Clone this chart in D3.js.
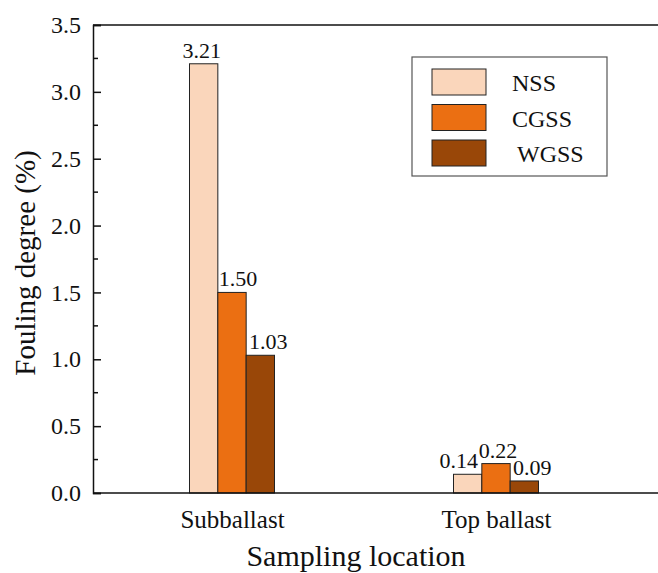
<!DOCTYPE html>
<html>
<head>
<meta charset="utf-8">
<script src="https://cdn.jsdelivr.net/npm/d3@7"></script>
<style>
  body { margin: 0; background: #fff; }
</style>
</head>
<body>
<div id="chart"></div>
<script>
// data
const categories = ['Subballast', 'Top ballast'];
const series = ['NSS', 'CGSS', 'WGSS'];
const nss = [3.21, 0.14];
const cgss = [1.50, 0.22];
const wgss = [1.03, 0.09];
const yTicks = [0, 0.5, 1.0, 1.5, 2.0, 2.5, 3.0, 3.5];
const colors = ['#FAD6BB', '#EB6F12', '#994708'];

// hand nudges of value labels (px), per series then category
const labelNudge = [[-2, -9], [6, 2], [8, 8]];

const FONT = 'Liberation Serif, DejaVu Serif, Times New Roman, serif';
const W = 658, H = 573;
const margin = {left: 93, top: 25, right: 0, bottom: 80};
const plotW = W - margin.left - margin.right;
const plotH = H - margin.top - margin.bottom;

const svg = d3.select('#chart').append('svg')
    .attr('width', W).attr('height', H)
    .attr('font-family', FONT);
const g = svg.append('g').attr('transform', `translate(${margin.left},${margin.top})`);

const y = d3.scaleLinear().domain([0, 3.5]).range([plotH, 0]);
const x = d3.scalePoint().domain(categories).range([139, 403]);
const xs = d3.scaleBand().domain(series).range([-42.5, 42.5]);

const values = [nss, cgss, wgss];

// bars + value labels
series.forEach((s, si) => {
    categories.forEach((c, ci) => {
        const v = values[si][ci];
        g.append('rect')
            .attr('x', x(c) + xs(s))
            .attr('y', y(v))
            .attr('width', xs.bandwidth())
            .attr('height', y(0) - y(v))
            .attr('fill', colors[si])
            .attr('stroke', '#222')
            .attr('stroke-width', 1);
        g.append('text')
            .attr('x', x(c) + xs(s) + xs.bandwidth() / 2 + labelNudge[si][ci])
            .attr('y', y(v) - 6)
            .attr('text-anchor', 'middle')
            .attr('font-size', 22)
            .attr('fill', '#111')
            .text(v.toFixed(2));
    });
});

// frame top line
g.append('line')
    .attr('x1', 0).attr('x2', plotW).attr('y1', 0).attr('y2', 0)
    .attr('stroke', '#111').attr('stroke-width', 1.5);

// y axis
const yAxis = g.append('g')
    .call(d3.axisLeft(y).tickValues(yTicks).tickFormat(d3.format('.1f')).tickSize(-8).tickPadding(12));
yAxis.attr('font-family', FONT).attr('font-size', 24);
yAxis.select('.domain').attr('stroke-width', 1.5).attr('stroke', '#111');
yAxis.selectAll('.tick line').attr('stroke-width', 1.5).attr('stroke', '#111');
yAxis.selectAll('.tick text').attr('fill', '#111');
// minor ticks
const minor = d3.range(0.25, 3.5, 0.5);
g.append('g').selectAll('line').data(minor).join('line')
    .attr('x1', 0).attr('x2', 5)
    .attr('y1', d => y(d)).attr('y2', d => y(d))
    .attr('stroke', '#111').attr('stroke-width', 1.5);

// x axis
const xAxis = g.append('g').attr('transform', `translate(0,${plotH})`)
    .call(d3.axisBottom(x).tickSize(0).tickPadding(17));
xAxis.attr('font-family', FONT).attr('font-size', 25);
xAxis.select('.domain').attr('d', `M0,0H${plotW}`).attr('stroke-width', 1.5).attr('stroke', '#111');
xAxis.selectAll('.tick text').attr('fill', '#111');

// axis titles
svg.append('text')
    .attr('transform', `translate(35,263) rotate(-90)`)
    .attr('text-anchor', 'middle')
    .attr('font-size', 29)
    .attr('fill', '#111')
    .text('Fouling degree (%)');
svg.append('text')
    .attr('x', 356)
    .attr('y', 566)
    .attr('text-anchor', 'middle')
    .attr('font-size', 30)
    .attr('fill', '#111')
    .text('Sampling location');

// legend
const legend = svg.append('g').attr('transform', 'translate(412,57)');
legend.append('rect')
    .attr('width', 195).attr('height', 119)
    .attr('fill', '#fff').attr('stroke', '#555').attr('stroke-width', 1.2);
const textOffsets = [100, 100, 105];
series.forEach((s, i) => {
    legend.append('rect')
        .attr('x', 20).attr('y', 12 + i * 35.5)
        .attr('width', 54).attr('height', 26)
        .attr('fill', colors[i]).attr('stroke', '#222').attr('stroke-width', 1);
    legend.append('text')
        .attr('x', textOffsets[i]).attr('y', 34 + i * 35.5)
        .attr('font-size', 24)
        .attr('fill', '#111')
        .text(s);
});
</script>
</body>
</html>
